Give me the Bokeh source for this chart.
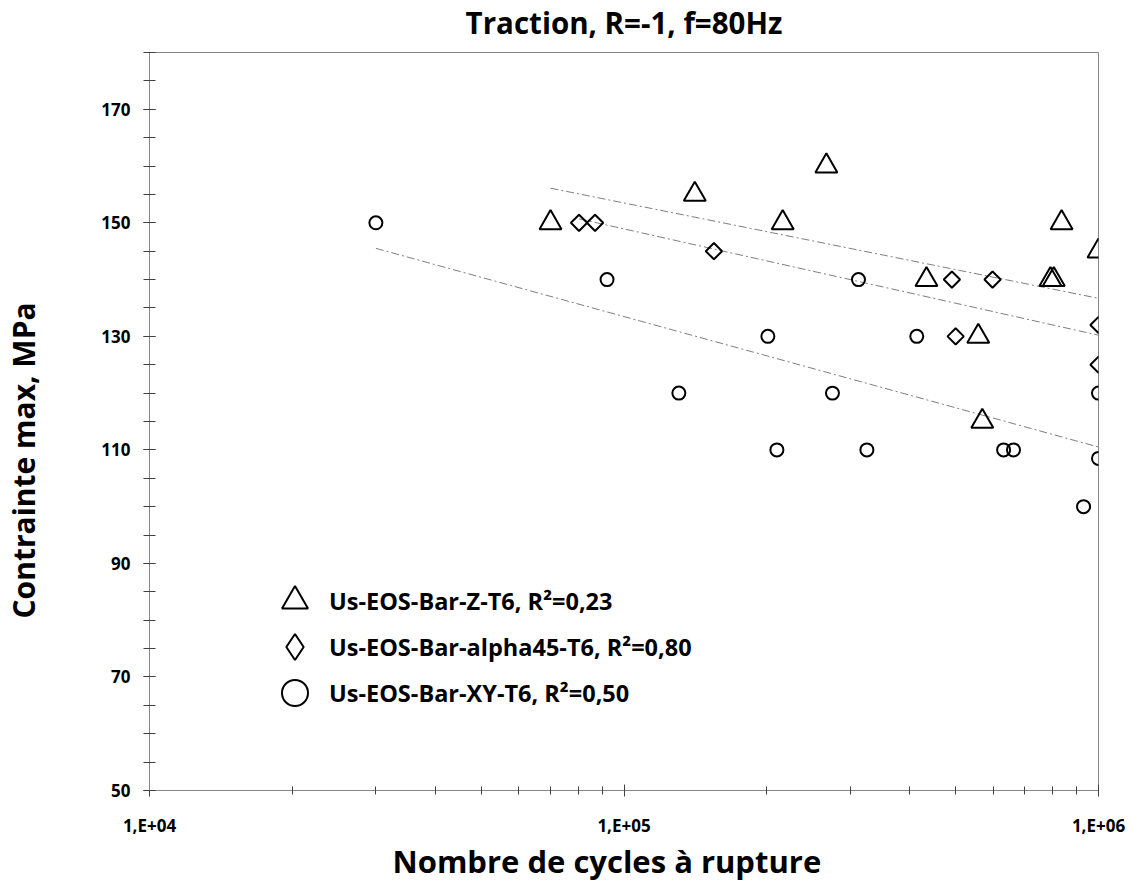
import math
from bokeh.plotting import figure
from bokeh.models import Range1d, FixedTicker, Legend, LegendItem, Title
from bokeh.embed import file_html
from bokeh.resources import INLINE

# ---- data -------------------------------------------------------------
z_cycles = [70000, 141000, 267000, 216000, 836000, 1000000, 434000, 792000, 805000, 558000, 569000]
z_stress = [150, 155, 160, 150, 150, 145, 140, 140, 140, 130, 115]

a_cycles = [80400, 86900, 154700, 491000, 598000, 1000000, 500000, 1000000]
a_stress = [150, 150, 145, 140, 140, 132, 130, 125]

xy_cycles = [30000, 92100, 312000, 201000, 414000, 130500, 275000, 1000000,
             210000, 325000, 631000, 662000, 1000000, 930000]
xy_stress = [150, 140, 140, 130, 130, 120, 120, 120, 110, 110, 110, 110, 108.5, 100]

# trend lines (logarithmic fits: start / end)
z_trend_cycles = [70000, 1000000]
z_trend_stress = [156.1, 136.7]
a_trend_cycles = [80400, 1000000]
a_trend_stress = [150.7, 130.2]
xy_trend_cycles = [30000, 1000000]
xy_trend_stress = [145.5, 110.5]

series_labels = ["Us-EOS-Bar-Z-T6, R²=0,23",
                 "Us-EOS-Bar-alpha45-T6, R²=0,80",
                 "Us-EOS-Bar-XY-T6, R²=0,50"]
title_text = "Traction, R=-1, f=80Hz"
x_title = "Nombre de cycles à rupture"
y_title = "Contrainte max, MPa"

x_ticks = [10000, 100000, 1000000]
x_tick_labels = ["1,E+04", "1,E+05", "1,E+06"]
x_minor = [m * 10 ** e for e in (4, 5) for m in range(2, 10)]
y_ticks = [50, 70, 90, 110, 130, 150, 170]
y_minor = list(range(50, 181, 5))

FONT = "Open Sans"
AXIS_GRAY = "#868686"
TICK_COL = "#404040"

p = figure(width=1133, height=885, x_axis_type="log",
           x_range=Range1d(1e4, 1e6), y_range=Range1d(50, 180),
           output_backend="svg", toolbar_location=None,
           min_border_left=148, min_border_right=35,
           min_border_top=52, min_border_bottom=95)

p.xgrid.visible = False
p.ygrid.visible = False
p.outline_line_color = AXIS_GRAY
p.outline_line_width = 1
p.background_fill_color = "white"
p.border_fill_color = "white"

# trend lines
dash = "8 3 2 3"
for xs, ys in ((z_trend_cycles, z_trend_stress),
               (a_trend_cycles, a_trend_stress),
               (xy_trend_cycles, xy_trend_stress)):
    p.line(xs, ys, line_color="#7f7f7f", line_width=1, line_dash=dash)

# markers
r_z = p.scatter(z_cycles, z_stress, marker="triangle", size=22,
                fill_color=None, line_color="black", line_width=2)
r_a = p.scatter(a_cycles, a_stress, marker="square", size=11.5, angle=math.pi / 4,
                fill_color=None, line_color="black", line_width=2)
r_xy = p.scatter(xy_cycles, xy_stress, marker="circle", size=13,
                 fill_color=None, line_color="black", line_width=2)
# legend key for the rotated-square series (legend keys ignore marker angle)
r_a_key = p.scatter(a_cycles, a_stress, marker="diamond", size=16,
                    fill_color=None, line_color="black", line_width=2, visible=False)

# axes
xa = p.xaxis[0]
xa.ticker = FixedTicker(ticks=x_ticks, minor_ticks=x_minor)
xa.major_label_overrides = dict(zip(x_ticks, x_tick_labels))
ya = p.yaxis[0]
ya.ticker = FixedTicker(ticks=y_ticks, minor_ticks=y_minor)

for ax in (xa, ya):
    ax.axis_line_color = AXIS_GRAY
    ax.axis_line_width = 1
    ax.major_tick_line_color = TICK_COL
    ax.minor_tick_line_color = TICK_COL
    ax.major_label_text_font = FONT
    ax.major_label_text_font_style = "bold"
    ax.major_label_text_font_size = "17px"
    ax.major_label_text_color = "black"

xa.major_tick_in = 6
xa.major_tick_out = 6
xa.minor_tick_in = 4
xa.minor_tick_out = 4
xa.major_label_standoff = 17

ya.major_tick_in = 6
ya.major_tick_out = 6
ya.minor_tick_in = 6
ya.minor_tick_out = 6
ya.major_label_standoff = 13

# titles placed in the side panels
def title(text, size, **kw):
    return Title(text=text, text_font=FONT, text_font_style="bold",
                 text_font_size=size, text_color="black", **kw)

def spacer(standoff):
    return Title(text=" ", text_font=FONT, text_font_size="10px", standoff=standoff)

# main title: a spacer next to the frame, then the title pulled up over it
p.add_layout(spacer(9), "above")
p.add_layout(title(title_text, "29.5px", align="center",
                   vertical_align="bottom", standoff=-30), "above")

# x axis title
p.add_layout(title(x_title, "31px", align="left", offset=243,
                   vertical_align="top", standoff=0), "below")

# y axis title
p.add_layout(spacer(39), "left")
p.add_layout(title(y_title, "30px", align="left", offset=172,
                   vertical_align="bottom", standoff=0), "left")

# legend: one single-row legend per series
def make_legend(label, renderer, box, loc, standoff):
    lg = Legend(items=[LegendItem(label=label, renderers=[renderer])],
                location=loc, glyph_width=box, glyph_height=box,
                label_standoff=standoff, padding=0, margin=0, spacing=0,
                border_line_color=None, background_fill_alpha=0,
                inactive_fill_alpha=0,
                label_text_font=FONT, label_text_font_style="bold",
                label_text_font_size="23.5px", label_text_color="black")
    p.add_layout(lg, "center")

make_legend(series_labels[0], r_z, 65, (113, 157), 2)
make_legend(series_labels[1], r_a_key, 65, (113, 111), 2)
make_legend(series_labels[2], r_xy, 65, (113, 65), 2)

open("out.html", "w").write(file_html(p, INLINE))
